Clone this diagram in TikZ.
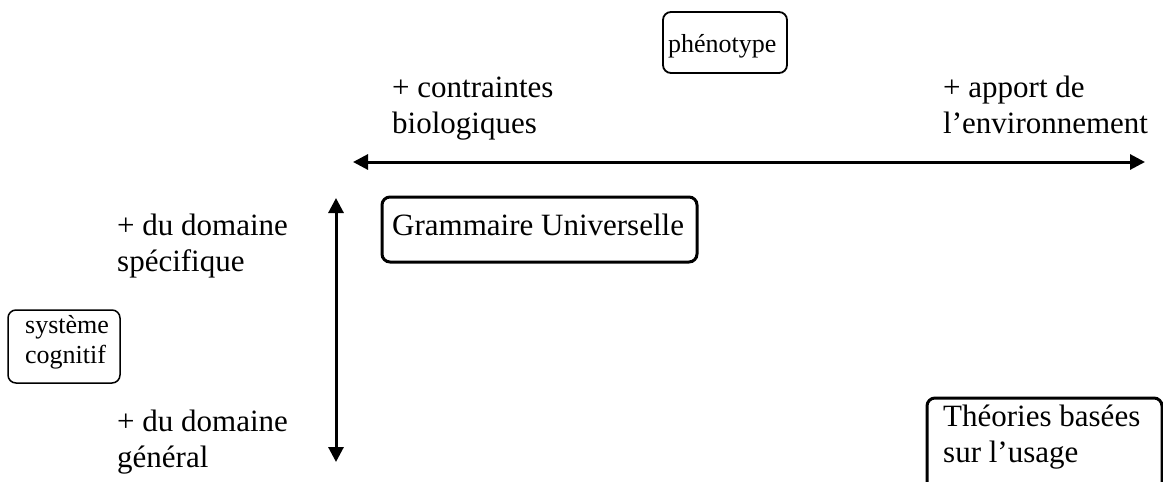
\documentclass[tikz,border=0pt]{standalone}
\usepackage{fontspec}
\setmainfont{Liberation Serif}
\usetikzlibrary{arrows.meta}
\begin{document}
\begin{tikzpicture}[x=1pt,y=1pt,
  big/.style={font=\fontsize{31}{36}\selectfont, inner sep=0pt, anchor=base west, align=left},
  small/.style={font=\fontsize{26}{30}\selectfont, inner sep=0pt, anchor=base west, align=left},
  frame/.style={draw, rounded corners=8pt, inner sep=0pt},
  axisline/.style={line width=3pt, {Triangle[length=15pt,width=15pt]}-{Triangle[length=15pt,width=15pt]}}]
\useasboundingbox (0,0) rectangle (1163,-482);
\clip (0,0) rectangle (1163,-482);
% boxes
\node[frame, line width=1.8pt, minimum width=124pt, minimum height=61pt] (phenobox) at (725,-42.5) {};
\node[small] (pheno) at (668,-52) {phénotype};
\node[frame, line width=3pt, minimum width=315pt, minimum height=65pt] (gubox) at (539.5,-229.5) {};
\node[big] (gu) at (392,-235) {Grammaire Universelle};
\node[frame, line width=1.5pt, minimum width=112pt, minimum height=73pt] (sysbox) at (64,-346.5) {};
\node[small] (sys) at (25,-363) {système\\cognitif};
\node[frame, line width=3pt, minimum width=235pt, minimum height=112pt] (thbox) at (1044.5,-454) {};
\node[big] (th) at (943,-462) {Théories basées\\sur l’usage};
% labels
\node[big] (bio) at (392,-133) {+ contraintes\\biologiques};
\node[big] (env) at (943,-133) {+ apport de\\l’environnement};
\node[big] (spec) at (117,-271) {+ du domaine\\spécifique};
\node[big] (gen) at (117,-467) {+ du domaine\\général};
% axes
\coordinate (hl) at (353,-162);
\coordinate (hr) at (1145,-162);
\coordinate (vt) at (336,-198);
\coordinate (vb) at (336,-462);
\draw[axisline] (hl) -- (hr);
\draw[axisline] (vt) -- (vb);
\end{tikzpicture}
\end{document}
